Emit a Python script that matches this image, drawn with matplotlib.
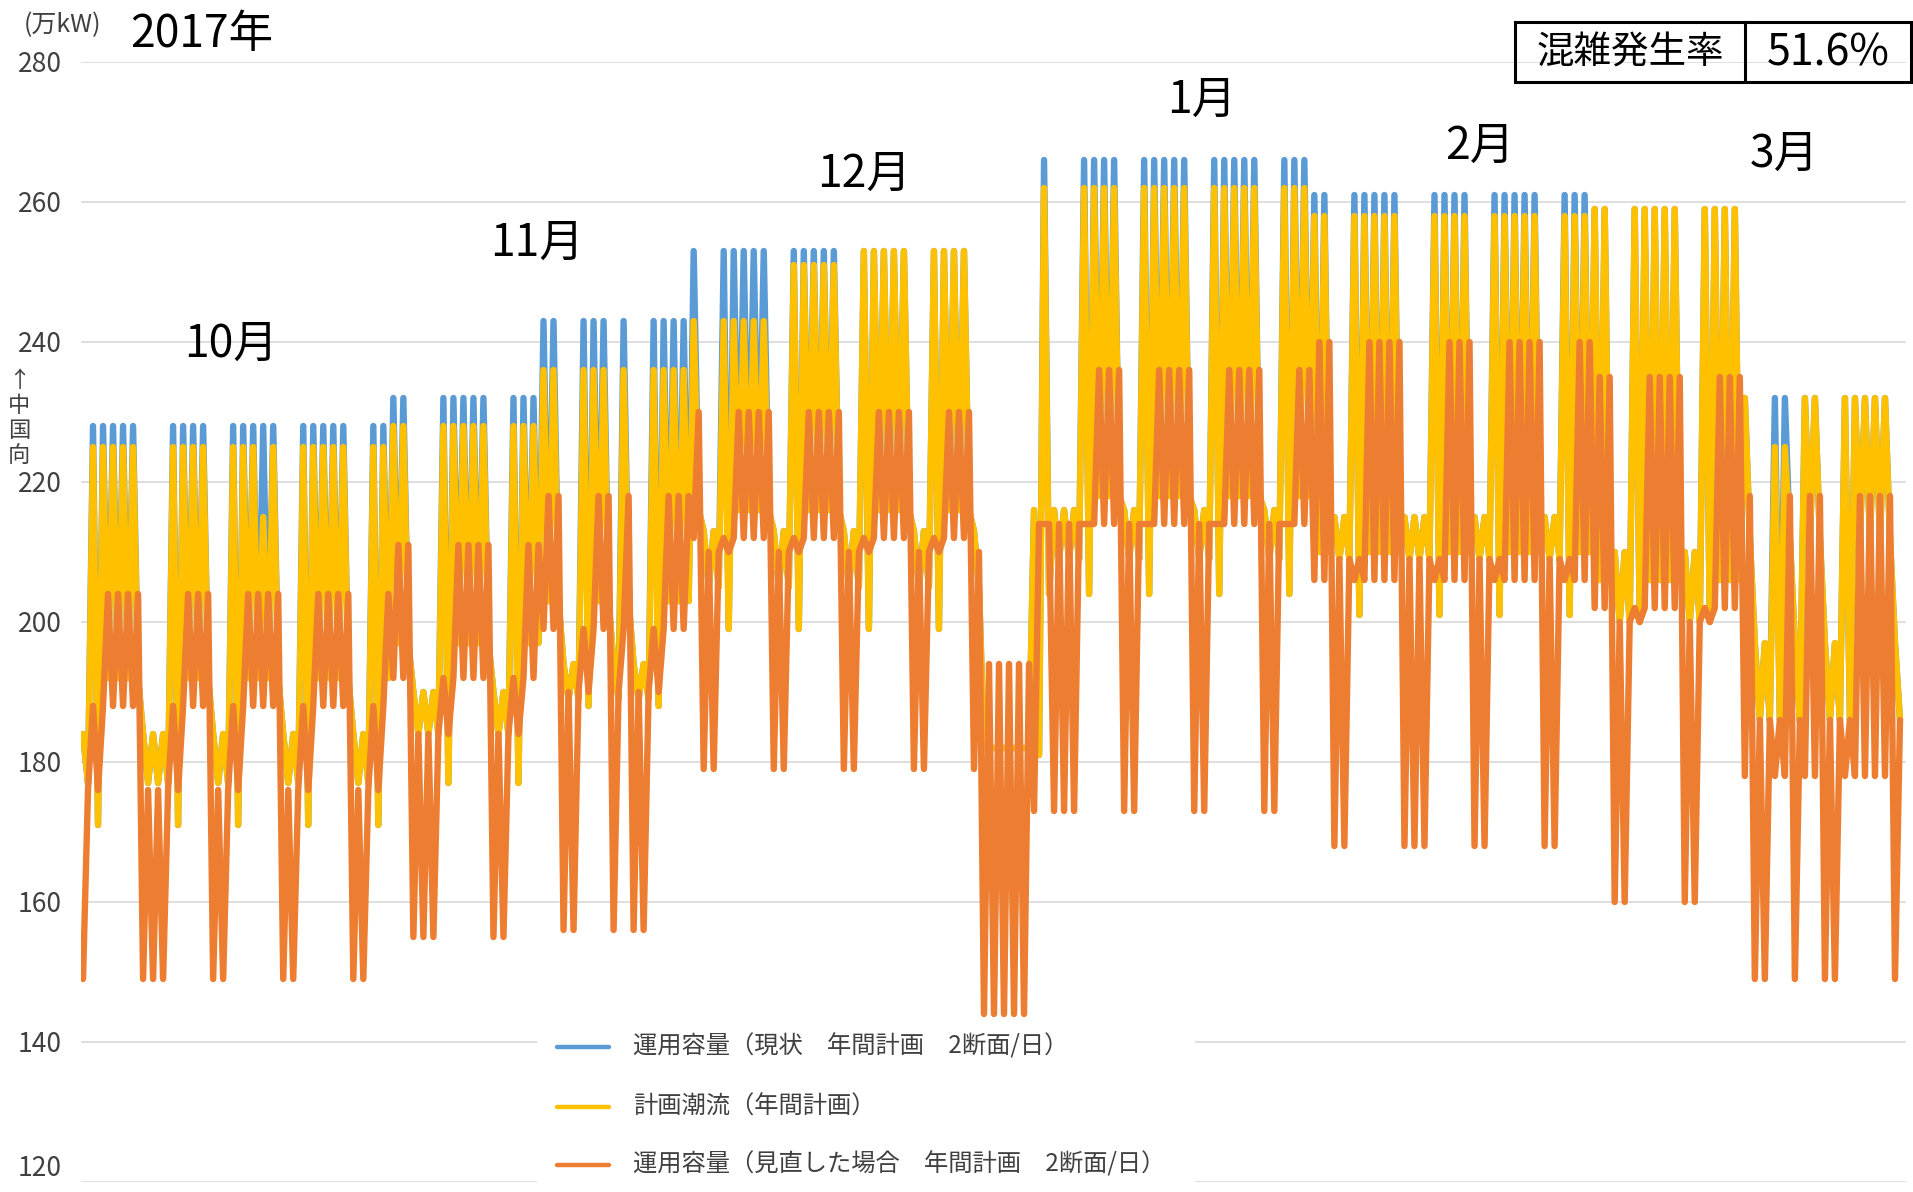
import numpy as np
import pandas as pd
import matplotlib
matplotlib.use("Agg")
import matplotlib.pyplot as plt
from matplotlib.patches import Rectangle
from matplotlib.lines import Line2D

plt.rcParams['font.family'] = ['Noto Sans CJK JP', 'DejaVu Sans']

# Período: 2017/10/01 - 2018/03/31, 2 pontos por dia (昼 / 夜)
dias = pd.date_range("2017-10-01", "2018-03-31", freq="D")

# Dias sem expediente além de sábado/domingo
feriados = ["2017-10-09", "2017-11-03", "2017-11-23", "2017-12-29",
            "2018-01-01", "2018-01-02", "2018-01-03", "2018-01-04",
            "2018-01-08", "2018-02-12", "2018-03-21"]

# Patamares, por trecho (início de cada trecho)
seg_inicio = ["2017-10-01", "2017-11-01", "2017-11-16", "2017-12-01", "2017-12-11", "2017-12-18",
              "2017-12-30", "2018-01-04", "2018-02-01", "2018-03-01", "2018-03-16"]
cap_pico   = [228, 232, 243, 253, 253, 253, 182, 266, 261, 259, 232]  # 運用容量(現状) dia útil
flu_pico   = [225, 228, 236, 243, 251, 253, 182, 262, 258, 259, 232]  # 計画潮流 dia útil (昼)
flu_noite  = [192, 197, 203, 216, 216, 216, 182, 218, 210, 206, 212]  # 計画潮流 dia útil (夜)
flu_1a     = [171, 177, 188, 199, 199, 199, 182, 204, 201, 200, 186]  # 1º dia útil após folga (夜)
flu_fds_a  = [184, 190, 194, 213, 213, 213, 182, 216, 215, 210, 197]  # folga (昼)
flu_fds_b  = [177, 184, 189, 205, 205, 205, 182, 209, 209, 200, 186]  # folga (夜)
rev_dia    = [188, 192, 199, 212, 212, 212, 144, 214, 206, 202, 178]  # 運用容量(見直し) dia útil (昼)
rev_noite  = [204, 211, 218, 230, 230, 230, 194, 236, 240, 235, 218]  # dia útil (夜)
rev_fds_a  = [149, 155, 156, 179, 179, 179, 144, 173, 168, 160, 149]  # folga (昼)
rev_fds_b  = [176, 184, 190, 210, 210, 210, 194, 214, 209, 200, 186]  # folga (夜)

# Exceções pontuais
flu_pico_dia = {"2017-10-19": 215, "2018-03-19": 225, "2018-03-20": 225}
flu_noite_dia = {"2018-01-04": 181}

labels = ["運用容量（現状　年間計画　2断面/日）",
          "計画潮流（年間計画）",
          "運用容量（見直した場合　年間計画　2断面/日）"]
cores = ["#5B9BD5", "#FFC000", "#ED7D31"]

# Monta as séries
seg_idx = np.searchsorted(pd.to_datetime(seg_inicio), dias, side="right") - 1
folga = (dias.weekday >= 5) | dias.isin(pd.to_datetime(feriados))

azul, amarelo, laranja = [], [], []
for k, d in enumerate(dias):
    s = seg_idx[k]
    ds = d.strftime("%Y-%m-%d")
    if folga[k]:
        ya, yb = flu_fds_a[s], flu_fds_b[s]
        oa, ob = rev_fds_a[s], rev_fds_b[s]
        ba = None
    else:
        primeiro = k < 2 or (folga[k - 1] and folga[k - 2])
        ya = flu_pico[s]
        yb = flu_1a[s] if primeiro else flu_noite[s]
        oa = rev_dia[s]
        ob = rev_fds_b[s] if primeiro else rev_noite[s]
        ba = cap_pico[s]
    ya = flu_pico_dia.get(ds, ya)
    yb = flu_noite_dia.get(ds, yb)
    amarelo += [ya, yb]
    laranja += [oa, ob]
    azul += [ba if ba is not None else ya, yb]

x = np.arange(len(amarelo))

# Figura
W, H = 1913, 1192
fig = plt.figure(figsize=(W / 100, H / 100), dpi=100)

def fx(px):
    return px / W

def fy(py):
    return 1 - py / H

ax = fig.add_axes([fx(81), fy(1182), fx(1906) - fx(81), fy(62) - fy(1182)])
for serie, c in zip([azul, amarelo, laranja], cores):
    ax.plot(x, serie, color=c, lw=4.6, solid_joinstyle="round", solid_capstyle="round")

ax.set_xlim(-0.4, 364.2)
ax.set_ylim(120, 280)
ax.set_yticks(range(120, 281, 20))
ax.grid(axis="y", color="#d9d9d9", lw=1.2)
ax.set_axisbelow(True)
for sp in ax.spines.values():
    sp.set_visible(False)
ax.tick_params(axis="y", length=0, pad=14, labelsize=19, labelcolor="#404040")
ax.tick_params(axis="x", bottom=False, labelbottom=False)
ax.get_yticklabels()[0].set_va("bottom")

# Textos
fig.text(fx(62), fy(25), "(万kW)", fontsize=18, ha="center", va="center", color="#404040")
fig.text(fx(19), fy(418), "↑\n中\n国\n向", fontsize=16, ha="center", va="center",
         color="#404040", linespacing=1.1)
fig.text(fx(202), fy(34), "2017年", fontsize=32, ha="center", va="center")
meses = ["10月", "11月", "12月", "1月", "2月", "3月"]
pos_meses = [(231, 344), (537, 243), (864, 174), (1202, 100), (1480, 146), (1784, 154)]
for m, (px, py) in zip(meses, pos_meses):
    fig.text(fx(px), fy(py), m, fontsize=32, ha="center", va="center")

# Quadro 混雑発生率
fig.add_artist(Rectangle((fx(1515), fy(82)), fx(1911) - fx(1515), fy(22) - fy(82),
                         fill=False, ec="black", lw=2.2, transform=fig.transFigure))
fig.add_artist(Line2D([fx(1745), fx(1745)], [fy(22), fy(82)], color="black", lw=2.2))
fig.text(fx(1630), fy(53), "混雑発生率", fontsize=27, ha="center", va="center")
fig.text(fx(1828), fy(53), "51.6%", fontsize=31, ha="center", va="center")

# Legenda
fig.add_artist(Rectangle((fx(537), 0), fx(1195) - fx(537), fy(1022), fc="white", ec="none",
                         transform=fig.transFigure))
for lab, c, yc in zip(labels, cores, [1047, 1107, 1165]):
    fig.add_artist(Line2D([fx(557), fx(609)], [fy(yc), fy(yc)], color=c, lw=3.2,
                          solid_capstyle="round"))
    fig.text(fx(633), fy(yc), lab, fontsize=17.5, va="center", color="#404040")

fig.savefig("out.png", dpi=100)
